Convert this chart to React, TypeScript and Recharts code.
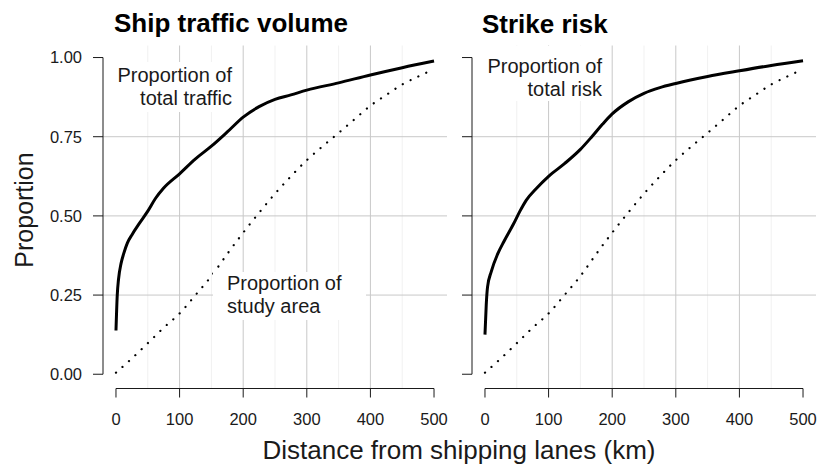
import React from 'react';
import { LineChart, Line, XAxis, YAxis, CartesianGrid, ReferenceLine } from 'recharts';

// distance from shipping lanes (km) and cumulative proportions
const trafficDistance = [0, 2, 4, 8, 12, 18, 25, 37, 50, 62, 75, 100, 125, 150, 175, 200, 225, 250, 275, 300, 350, 400, 450, 500];
const trafficProportion = [0.138, 0.25, 0.3, 0.35, 0.38, 0.415, 0.44, 0.477, 0.515, 0.555, 0.588, 0.633, 0.68, 0.72, 0.765, 0.812, 0.845, 0.868, 0.882, 0.897, 0.92, 0.945, 0.968, 0.989];

const riskDistance = [0, 2, 4, 10, 20, 30, 45, 55, 65, 80, 100, 125, 150, 168, 185, 200, 225, 250, 275, 300, 350, 400, 450, 500];
const riskProportion = [0.125, 0.22, 0.275, 0.325, 0.38, 0.42, 0.475, 0.515, 0.55, 0.585, 0.625, 0.665, 0.71, 0.75, 0.79, 0.822, 0.86, 0.887, 0.905, 0.918, 0.94, 0.958, 0.975, 0.99];

const areaDistance = [0, 25, 50, 75, 100, 125, 150, 175, 200, 225, 250, 275, 300, 325, 350, 375, 400, 425, 450, 475, 500];
const areaProportion = [0.005, 0.05, 0.098, 0.147, 0.192, 0.25, 0.31, 0.38, 0.447, 0.51, 0.57, 0.625, 0.676, 0.72, 0.762, 0.805, 0.848, 0.882, 0.915, 0.94, 0.963];

const xTicks = [0, 100, 200, 300, 400, 500];
const yTicks = [0, 0.25, 0.5, 0.75, 1];
const majorX = [100, 200, 300, 400];
const minorX = [50, 150, 250, 350, 450];
const majorY = [0.25, 0.5, 0.75];

const toPoints = (xs: number[], ys: number[]) => xs.map((d, i) => ({ d, p: ys[i] }));

const trafficData = toPoints(trafficDistance, trafficProportion);
const riskData = toPoints(riskDistance, riskProportion);
const areaData = toPoints(areaDistance, areaProportion);

const FONT = '"Liberation Sans", Helvetica, Arial, sans-serif';
const INK = '#1a1a1a';
const X_DOMAIN: [number, number] = [-20.4, 520.4];
const Y_DOMAIN: [number, number] = [-0.045, 1.038];

interface PanelProps {
  left: number;
  solid: { d: number; p: number }[];
  showYLabels: boolean;
}

const Panel: React.FC<PanelProps> = ({ left, solid, showYLabels }) => (
  <div style={{ position: 'absolute', left, top: 0 }}>
    <LineChart width={460} height={469} margin={{ top: 45.5, right: 13, bottom: 30.5, left: 0 }}>
      <CartesianGrid horizontal={false} verticalValues={minorX} stroke="#f1f1f1" />
      <CartesianGrid horizontalValues={majorY} verticalValues={majorX} stroke="#c8c8c8" />
      <XAxis
        type="number"
        dataKey="d"
        domain={X_DOMAIN}
        allowDataOverflow
        ticks={xTicks}
        height={50}
        axisLine={false}
        tickLine={{ stroke: INK }}
        tickSize={9}
        tickMargin={16}
        tick={{ fill: INK, fontSize: 16.5, fontFamily: FONT }}
      />
      <YAxis
        type="number"
        domain={Y_DOMAIN}
        allowDataOverflow
        ticks={yTicks}
        width={103}
        axisLine={false}
        tickLine={{ stroke: INK }}
        tickSize={10}
        tickMargin={11}
        tickFormatter={(v: number) => (showYLabels ? v.toFixed(2) : '')}
        tick={{ fill: INK, fontSize: 16.5, fontFamily: FONT }}
      />
      <ReferenceLine
        segment={[{ x: 0, y: Y_DOMAIN[0] }, { x: 500, y: Y_DOMAIN[0] }]}
        stroke={INK}
        ifOverflow="visible"
      />
      <ReferenceLine
        segment={[{ x: X_DOMAIN[0], y: 0 }, { x: X_DOMAIN[0], y: 1 }]}
        stroke={INK}
        ifOverflow="visible"
      />
      <Line
        data={areaData}
        dataKey="p"
        type="monotone"
        stroke="#000"
        strokeWidth={2.2}
        strokeDasharray="0.1 8.6"
        strokeLinecap="round"
        dot={false}
        isAnimationActive={false}
      />
      <Line
        data={solid}
        dataKey="p"
        type="monotone"
        stroke="#000"
        strokeWidth={3}
        dot={false}
        isAnimationActive={false}
      />
    </LineChart>
  </div>
);

const labelText = { fontFamily: FONT, fontSize: 20, fill: INK };

export default function App() {
  return (
    <div style={{ position: 'absolute', left: 0, top: 0, width: 819, height: 469, background: '#fff', overflow: 'hidden' }}>
      <Panel left={0} solid={trafficData} showYLabels />
      <Panel left={369} solid={riskData} showYLabels={false} />
      <svg width={819} height={469} style={{ position: 'absolute', left: 0, top: 0, pointerEvents: 'none' }}>
        <text x={114} y={31.5} fontFamily={FONT} fontWeight="bold" fontSize={26} fill="#000">Ship traffic volume</text>
        <text x={482} y={33} fontFamily={FONT} fontWeight="bold" fontSize={26} fill="#000">Strike risk</text>

        <rect x={113} y={62} width={123} height={50} fill="#fff" />
        <text x={232} y={82} textAnchor="end" {...labelText}>Proportion of</text>
        <text x={232} y={104.5} textAnchor="end" {...labelText}>total traffic</text>

        <rect x={213} y={272} width={153} height={48} fill="#fff" />
        <text x={227} y={289.5} {...labelText}>Proportion of</text>
        <text x={227} y={313} {...labelText}>study area</text>

        <rect x={483} y={46} width={123} height={55} fill="#fff" />
        <text x={602} y={72.5} textAnchor="end" {...labelText}>Proportion of</text>
        <text x={602} y={95.5} textAnchor="end" {...labelText}>total risk</text>

        <text x={33} y={210} transform="rotate(-90, 33, 210)" textAnchor="middle" fontFamily={FONT} fontSize={25} fill={INK}>Proportion</text>
        <text x={459} y={459} textAnchor="middle" fontFamily={FONT} fontSize={26} fill={INK}>Distance from shipping lanes (km)</text>
      </svg>
    </div>
  );
}
